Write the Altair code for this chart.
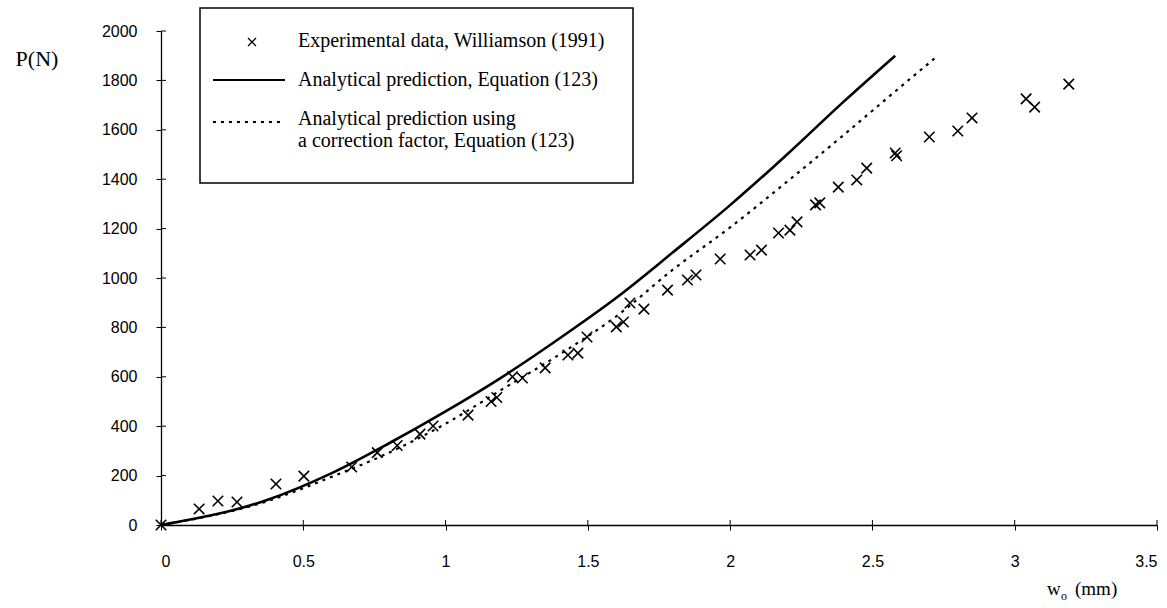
import altair as alt
import pandas as pd

# ---- data ----
exp_w = [0, 0.134, 0.20, 0.267, 0.404, 0.502, 0.67, 0.76, 0.83, 0.91, 0.956,
         1.079, 1.16, 1.18, 1.235, 1.27, 1.35, 1.43, 1.465, 1.497, 1.60, 1.625,
         1.648, 1.697, 1.78, 1.85, 1.88, 1.965, 2.07, 2.11, 2.17, 2.21, 2.235,
         2.30, 2.315, 2.38, 2.445, 2.48, 2.58, 2.585, 2.70, 2.80, 2.85, 3.04,
         3.07, 3.19]
exp_P = [0, 65, 97, 93, 166, 198, 235, 293, 322, 368, 401,
         445, 500, 516, 600, 595, 636, 688, 696, 761, 802, 822,
         899, 874, 951, 992, 1012, 1077, 1093, 1113, 1182, 1194, 1227,
         1296, 1304, 1368, 1397, 1445, 1506, 1495, 1571, 1595, 1648, 1725,
         1692, 1785]

solid_w = [0, 0.37, 0.6, 0.8, 1.0, 1.2, 1.4, 1.6, 1.8, 2.0, 2.2, 2.4, 2.58]
solid_P = [0, 100, 210, 330, 460, 600, 755, 920, 1105, 1295, 1500, 1715, 1900]

dot_w = [0, 0.37, 0.6, 0.8, 1.0, 1.2, 1.4, 1.6, 1.8, 2.0, 2.2, 2.4, 2.6, 2.73]
dot_P = [0, 95, 195, 292, 410, 550, 690, 845, 1035, 1205, 1390, 1580, 1775, 1900]

x_ticks = [0, 0.5, 1, 1.5, 2, 2.5, 3, 3.5]
y_ticks = [0, 200, 400, 600, 800, 1000, 1200, 1400, 1600, 1800, 2000]

legend_labels = ["Experimental data, Williamson (1991)",
                 "Analytical prediction, Equation (123)",
                 "Analytical prediction using",
                 "a correction factor, Equation (123)"]

W, H = 996, 494
SERIF = "Liberation Serif"
SANS = "Liberation Sans"
XPATH = "M-1,-1L1,1M-1,1L1,-1"

exp_df = pd.DataFrame({"w": exp_w, "P": exp_P})
solid_df = pd.DataFrame({"w": solid_w, "P": solid_P})
dot_df = pd.DataFrame({"w": dot_w, "P": dot_P})
xt_df = pd.DataFrame({"w": x_ticks})
yt_df = pd.DataFrame({"P": y_ticks})

xscale = alt.Scale(domain=[0, 3.5], nice=False, zero=False)
yscale = alt.Scale(domain=[0, 2000], nice=False)

xaxis = alt.Axis(values=x_ticks, format="~g", title=None, grid=False,
                 tickSize=5, labelPadding=23, labelFontSize=16, labelFont=SANS)
yaxis = alt.Axis(values=y_ticks, format="d", title=None, grid=False,
                 tickSize=5, labelPadding=19, labelFontSize=16, labelFont=SANS)

X = alt.X("w:Q", scale=xscale, axis=xaxis)
Y = alt.Y("P:Q", scale=yscale, axis=yaxis)

solid = alt.Chart(solid_df).mark_line(color="black", strokeWidth=2.6,
                                      interpolate="monotone").encode(x=X, y=Y)
dotted = alt.Chart(dot_df).mark_line(color="black", strokeWidth=2.2,
                                     strokeDash=[3, 5], interpolate="monotone").encode(
    x=alt.X("w:Q", scale=xscale), y=alt.Y("P:Q", scale=yscale))
points = alt.Chart(exp_df).mark_point(shape=XPATH, size=110, filled=False,
                                      color="black", strokeWidth=1.6, opacity=1).encode(
    x=alt.X("w:Q", scale=xscale), y=alt.Y("P:Q", scale=yscale))

# inner halves of the crossing ticks
xin = alt.Chart(xt_df).mark_rule(color="black", strokeWidth=1).encode(
    x=alt.X("w:Q", scale=xscale), y=alt.value(H - 5), y2=alt.value(H))
yin = alt.Chart(yt_df).mark_rule(color="black", strokeWidth=1).encode(
    y=alt.Y("P:Q", scale=yscale), x=alt.value(0), x2=alt.value(5))

# axis titles
ptitle = alt.Chart().mark_text(font=SERIF, fontSize=22, align="center",
                               baseline="alphabetic", color="black").encode(
    x=alt.value(-124), y=alt.value(35), text=alt.value("P(N)"))
wt = alt.Chart().mark_text(font=SERIF, fontSize=19, align="left",
                           baseline="alphabetic", color="black").encode(
    x=alt.value(886), y=alt.value(564), text=alt.value("w"))
ot = alt.Chart().mark_text(font=SERIF, fontSize=12, align="left",
                           baseline="alphabetic", color="black").encode(
    x=alt.value(900), y=alt.value(569), text=alt.value("o"))
mmt = alt.Chart().mark_text(font=SERIF, fontSize=19, align="left",
                            baseline="alphabetic", color="black").encode(
    x=alt.value(914), y=alt.value(564), text=alt.value("(mm)"))

# legend box
box = alt.Chart().mark_rect(fill="white", stroke="black", strokeWidth=1.5).encode(
    x=alt.value(39), x2=alt.value(472), y=alt.value(-23), y2=alt.value(152))
leg_x = alt.Chart().mark_point(shape=XPATH, size=64, filled=False, color="black",
                               strokeWidth=1.3, opacity=1).encode(
    x=alt.value(91), y=alt.value(11))
leg_solid = alt.Chart().mark_rule(color="black", strokeWidth=2.2).encode(
    x=alt.value(52), x2=alt.value(124), y=alt.value(49))
leg_dot = alt.Chart().mark_rule(color="black", strokeWidth=2, strokeDash=[3, 5]).encode(
    x=alt.value(52), x2=alt.value(124), y=alt.value(91))
leg_texts = []
for lab, yy in zip(legend_labels, [16, 55, 94, 116]):
    leg_texts.append(alt.Chart().mark_text(font=SERIF, fontSize=20, align="left",
                                           baseline="alphabetic", color="black").encode(
        x=alt.value(137), y=alt.value(yy), text=alt.value(lab)))

chart = alt.layer(solid, dotted, points, xin, yin, ptitle, wt, ot, mmt,
                  box, leg_x, leg_solid, leg_dot, *leg_texts).properties(
    width=W, height=H,
    autosize=alt.AutoSizeParams(type="none"),
    padding={"left": 161, "top": 31, "right": 10, "bottom": 83},
    background="white",
).configure_view(stroke=None).configure_axis(
    domainColor="black", domainWidth=1.3, tickColor="black", tickWidth=1,
    labelColor="black")

chart.save("out.html", embed_options={"renderer": "svg", "actions": False})
